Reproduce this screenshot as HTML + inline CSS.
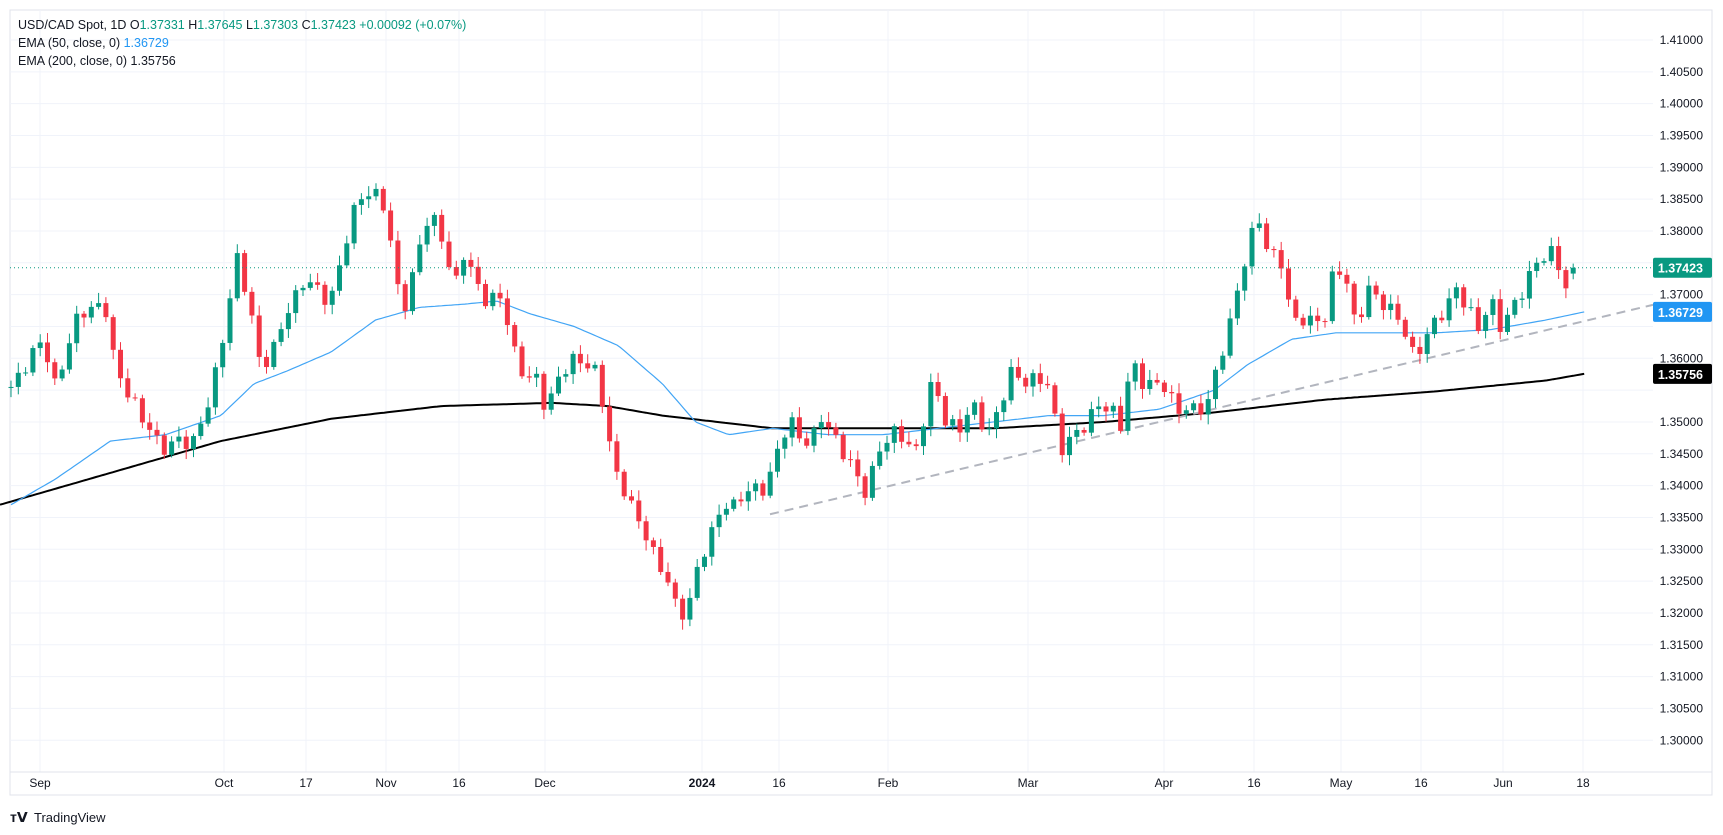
<!DOCTYPE html>
<html><head><meta charset="utf-8"><style>
html,body{margin:0;padding:0;background:#fff;width:1723px;height:835px;overflow:hidden;font-family:"Liberation Sans",sans-serif}
svg{position:absolute;left:0;top:0}
</style></head><body>
<svg id="s" width="1723" height="835" xmlns="http://www.w3.org/2000/svg" font-family="Liberation Sans, sans-serif"></svg>
<script>
const S=document.getElementById('s');
const PL=10,PR=1653,PT=10,PB=772,AR=1712,AB=795;
const Y=p=>40+(1.41-p)*6366;
const K=1.104;
let h='';
h+=`<rect x="${PL}" y="${PT}" width="${AR-PL}" height="${AB-PT}" fill="#fff" stroke="#e0e3eb"/>`;
// horizontal grid
for(let k=0;k<=22;k++){const p=1.41-k*0.005,y=Y(p);h+=`<line x1="${PL}" x2="${PR}" y1="${y}" y2="${y}" stroke="#f0f3fa"/>`;}
const xl=[["Sep",40],["Oct",224],["17",306],["Nov",386],["16",459],["Dec",545],["2024",702],["16",779],["Feb",888],["Mar",1028],["Apr",1164],["16",1254],["May",1341],["16",1421],["Jun",1503],["18",1583]];
xl.forEach(([t,x])=>{h+=`<line x1="${x}" x2="${x}" y1="${PT}" y2="${PB}" stroke="#f0f3fa"/>`;});
h+=`<line x1="${PL}" x2="${AR}" y1="${PB}" y2="${PB}" stroke="#e0e3eb"/>`;
xl.forEach(([t,x])=>{h+=`<text x="${x}" y="787" font-size="12" fill="#131722" text-anchor="middle" ${t=="2024"?'font-weight="bold"':''}>${t}</text>`;});
for(let k=0;k<=22;k++){const p=1.41-k*0.005;if([1.375,1.365,1.355].some(v=>Math.abs(v-p)<1e-6))continue;h+=`<text x="1703" y="${Y(p)+4}" font-size="12" fill="#131722" text-anchor="end">${p.toFixed(5)}</text>`;}
function interp(A,x){if(x<=A[0][0])return A[0][1];for(let i=1;i<A.length;i++){if(x<=A[i][0]){const t=(x-A[i-1][0])/(A[i][0]-A[i-1][0]);return A[i-1][1]+t*(A[i][1]-A[i-1][1]);}}return A[A.length-1][1];}
const P=[[10,1.3555],[25,1.36],[40,1.362],[50,1.356],[65,1.364],[80,1.368],[95,1.369],[105,1.357],[120,1.354],[135,1.349],[145,1.345],[160,1.348],[175,1.346],[185,1.351],[195,1.358],[205,1.366],[215,1.375],[225,1.37],[235,1.36],[245,1.359],[260,1.368],[275,1.372],[290,1.37],[300,1.37],[310,1.376],[320,1.382],[330,1.387],[340,1.386],[350,1.383],[357,1.373],[365,1.368],[375,1.374],[385,1.381],[395,1.381],[405,1.378],[410,1.37],[420,1.376],[430,1.372],[440,1.37],[455,1.369],[465,1.361],[475,1.358],[485,1.357],[495,1.351],[505,1.357],[515,1.36],[525,1.359],[540,1.358],[550,1.351],[555,1.342],[565,1.339],[575,1.336],[585,1.333],[595,1.327],[605,1.325],[615,1.32],[625,1.322],[635,1.328],[645,1.333],[655,1.338],[665,1.336],[680,1.34],[695,1.34],[705,1.345],[715,1.351],[725,1.348],[735,1.346],[745,1.351],[760,1.347],[775,1.341],[785,1.339],[795,1.346],[805,1.347],[815,1.348],[830,1.346],[845,1.356],[855,1.351],[870,1.349],[880,1.352],[895,1.349],[905,1.352],[915,1.357],[925,1.357],[940,1.357],[950,1.355],[960,1.346],[970,1.348],[985,1.349],[995,1.353],[1005,1.353],[1015,1.349],[1025,1.359],[1035,1.357],[1045,1.356],[1055,1.355],[1065,1.352],[1075,1.353],[1085,1.351],[1095,1.353],[1105,1.361],[1115,1.366],[1125,1.373],[1135,1.38],[1140,1.383],[1150,1.376],[1160,1.375],[1170,1.366],[1180,1.367],[1190,1.365],[1200,1.366],[1210,1.376],[1220,1.372],[1228,1.364],[1240,1.371],[1250,1.37],[1260,1.367],[1270,1.365],[1280,1.361],[1290,1.363],[1300,1.365],[1310,1.368],[1320,1.372],[1330,1.367],[1340,1.364],[1350,1.37],[1360,1.365],[1370,1.367],[1380,1.371],[1390,1.3755],[1400,1.376],[1410,1.3755],[1415,1.372],[1420,1.3715],[1430,1.3735],[1435,1.37423]];
const E2=[[0,1.337],[100,1.342],[200,1.347],[300,1.3505],[400,1.3525],[500,1.353],[550,1.3525],[600,1.351],[650,1.35],[700,1.349],[800,1.349],[900,1.349],[1000,1.35],[1100,1.3515],[1200,1.3535],[1300,1.3548],[1400,1.3565],[1435,1.35756]];
const E1=[[10,1.337],[50,1.341],[100,1.347],[150,1.348],[200,1.351],[230,1.356],[260,1.358],[300,1.361],[340,1.366],[380,1.368],[420,1.3685],[450,1.369],[480,1.367],[520,1.365],[560,1.362],[600,1.356],[630,1.35],[660,1.348],[700,1.349],[750,1.348],[800,1.348],[850,1.349],[900,1.35],[950,1.351],[1000,1.351],[1050,1.352],[1100,1.355],[1130,1.359],[1170,1.363],[1210,1.364],[1260,1.364],[1300,1.364],[1350,1.3645],[1400,1.366],[1435,1.36729]];
function line(A,x0,col,w){let d='';for(let x=x0;x<=1435;x+=3){d+=(d?'L':'M')+(x*K).toFixed(1)+','+Y(interp(A,x)).toFixed(1);}d+='L'+(1435*K).toFixed(1)+','+Y(interp(A,1435)).toFixed(1);return `<path d="${d}" fill="none" stroke="${col}" stroke-width="${w}"/>`;}
h+=line(E2,0,'#000',2);
h+=line(E1,10,'#42a5f5',1.2);
h+=`<line x1="770" y1="${Y(1.3355)}" x2="${PR}" y2="${Y(1.3684)}" stroke="#b2b5be" stroke-width="2" stroke-dasharray="9,6"/>`;
// candles
let prev=interp(P,10/K);
for(let i=0;i<215;i++){const x=11+i*7.3;const px=x/K;let c=interp(P,px)+0.0012*Math.sin(i*2.3)+0.0007*Math.sin(i*5.1);if(i==214)c=1.37423;const o=(i==214)?1.37331:prev;const hi=Math.max(o,c)+0.0004+0.0006*(1+Math.sin(i*1.7));const lo=Math.min(o,c)-0.0004-0.0006*(1+Math.cos(i*1.3));const col=c>=o?'#089981':'#f23645';
h+=`<line x1="${x}" x2="${x}" y1="${Y(hi)}" y2="${Y(lo)}" stroke="${col}"/>`;const yt=Y(Math.max(o,c)),yb=Y(Math.min(o,c));h+=`<rect x="${x-2.5}" y="${yt}" width="5" height="${Math.max(1,yb-yt)}" fill="${col}"/>`;prev=c;}
h+=`<line x1="${PL}" x2="${PR}" y1="${Y(1.37423)}" y2="${Y(1.37423)}" stroke="#089981" stroke-dasharray="1,3"/>`;
function tag(p,bg,t){const y=Y(p);h+=`<rect x="1653" y="${y-10}" width="59" height="20" rx="2" fill="${bg}"/><text x="1703" y="${y+5}" font-size="12.5" font-weight="bold" fill="#fff" text-anchor="end">${t}</text>`;}
tag(1.37423,'#089981','1.37423');tag(1.36729,'#2196f3','1.36729');tag(1.35756,'#000','1.35756');
h+=`<text x="18" y="29" font-size="12.5" fill="#131722">USD/CAD Spot, 1D  <tspan fill="#131722">O</tspan><tspan fill="#089981">1.37331</tspan>  <tspan>H</tspan><tspan fill="#089981">1.37645</tspan>  <tspan>L</tspan><tspan fill="#089981">1.37303</tspan>  <tspan>C</tspan><tspan fill="#089981">1.37423  +0.00092 (+0.07%)</tspan></text>`;
h+=`<text x="18" y="47" font-size="12.5" fill="#131722">EMA (50, close, 0)  <tspan fill="#2196f3">1.36729</tspan></text>`;
h+=`<text x="18" y="65" font-size="12.5" fill="#131722">EMA (200, close, 0)  1.35756</text>`;
h+=`<text x="10" y="822" font-size="14" font-weight="bold" fill="#131722">ᴛ𝗩</text><text x="34" y="822" font-size="13" fill="#131722">TradingView</text>`;
S.innerHTML=h;
</script>
</body></html>
